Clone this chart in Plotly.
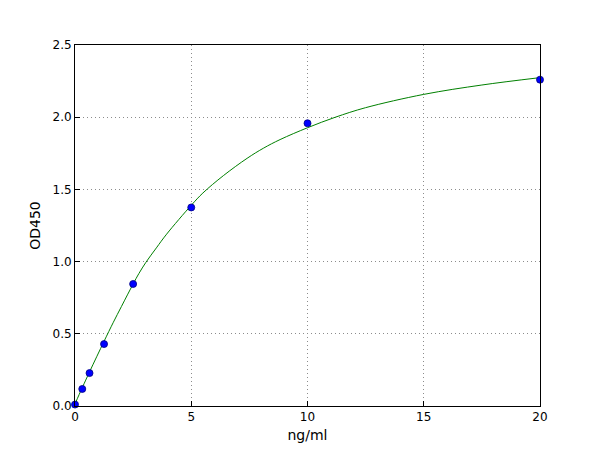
import plotly.graph_objects as go

# Standard points
conc = [0, 0.3125, 0.625, 1.25, 2.5, 5, 10, 20]
od = [0.01, 0.118, 0.228, 0.429, 0.845, 1.375, 1.958, 2.26]

# Fitted curve
curve_x = [0, 0.3125, 0.625, 1.25, 1.65, 2.0, 2.5, 2.75, 3.05, 3.5, 3.94, 5, 5.5, 6.38, 7.4, 8.1, 8.82, 10, 11.2, 12.5, 15, 17.5, 20]
curve_y = [0.015, 0.127, 0.236, 0.448, 0.58, 0.69, 0.845, 0.918, 0.995, 1.095, 1.19, 1.39, 1.475, 1.595, 1.715, 1.785, 1.845, 1.927, 2.0, 2.066, 2.158, 2.223, 2.274]

x_ticks = [0, 5, 10, 15, 20]
y_ticks = [0.0, 0.5, 1.0, 1.5, 2.0, 2.5]
y_ticktext = ["0.0", "0.5", "1.0", "1.5", "2.0", "2.5"]

fig = go.Figure()
fig.add_trace(go.Scatter(x=curve_x, y=curve_y, mode="lines",
                         line=dict(color="#008000", width=1, shape="spline", smoothing=1.0),
                         showlegend=False, hoverinfo="skip"))
fig.add_trace(go.Scatter(x=conc, y=od, mode="markers",
                         marker=dict(color="#0000ff", size=7, line=dict(color="#000080", width=0.8)),
                         showlegend=False, cliponaxis=False))

axis_common = dict(showline=True, linecolor="black", linewidth=1, mirror=True,
                   ticks="inside", ticklen=5, tickcolor="black",
                   showgrid=True, gridcolor="#8c8c8c", griddash="1px,3px", gridwidth=1,
                   zeroline=False, tickfont=dict(family="DejaVu Sans", size=12, color="black"))

fig.update_layout(
    width=600, height=450,
    margin=dict(l=67, r=68, t=37, b=52),
    paper_bgcolor="white", plot_bgcolor="white",
    font=dict(family="DejaVu Sans", size=12, color="black"),
    xaxis=dict(range=[0, 20], tickvals=x_ticks, title=dict(text="ng/ml", standoff=6), **axis_common),
    yaxis=dict(range=[0, 2.5], tickvals=y_ticks, ticktext=y_ticktext,
               title=dict(text="OD450", standoff=8), **axis_common),
)

fig.write_html("out.html")
